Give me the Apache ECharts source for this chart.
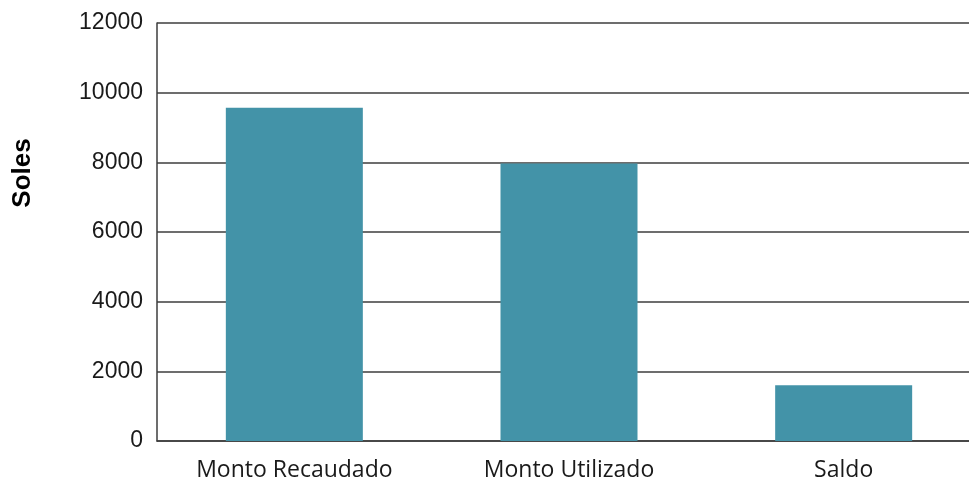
<!DOCTYPE html>
<html>
<head>
<meta charset="utf-8">
<script src="https://cdn.jsdelivr.net/npm/echarts@6/dist/echarts.min.js"></script>
<style>
  html, body { margin: 0; padding: 0; background: #fff; }
  #main { width: 969px; height: 483px; }
</style>
</head>
<body>
<div id="main"></div>
<script>
var categorias = ['Monto Recaudado', 'Monto Utilizado', 'Saldo'];
var montos = [9570, 7970, 1600];
var ejeY = [0, 2000, 4000, 6000, 8000, 10000, 12000];

var colorLinea = '#3c3c3c';

var option = {
    animation: false,
    // el area del grafico sigue un poco fuera del lienzo a la derecha
    grid: { left: 157, right: -12, top: 23, bottom: 42, containLabel: false, outerBoundsMode: 'none' },
    graphic: [
        {
            type: 'text',
            x: 23,
            y: 173,
            rotation: Math.PI / 2,
            style: {
                text: 'Soles',
                fill: '#000',
                font: 'bold 26px "Liberation Sans"',
                align: 'center',
                verticalAlign: 'middle'
            }
        }
    ],
    xAxis: {
        type: 'category',
        data: categorias,
        axisTick: { show: false },
        axisLine: { show: true, lineStyle: { color: colorLinea, width: 1.5 } },
        axisLabel: {
            color: '#1a1a1a',
            fontFamily: 'Open Sans',
            fontSize: 23,
            margin: 18
        }
    },
    yAxis: {
        type: 'value',
        min: ejeY[0],
        max: ejeY[ejeY.length - 1],
        interval: 2000,
        axisTick: { show: false },
        axisLine: { show: true, lineStyle: { color: colorLinea, width: 1.5 } },
        splitLine: { show: true, lineStyle: { color: colorLinea, width: 1.5 } },
        axisLabel: {
            color: '#1a1a1a',
            fontFamily: 'Liberation Sans',
            fontSize: 23,
            margin: 14,
            formatter: function (v) { return String(v); }
        }
    },
    series: [
        {
            type: 'bar',
            data: montos,
            barWidth: 137,
            itemStyle: { color: '#4393a8' }
        }
    ]
};

var myChart = echarts.init(document.getElementById('main'));
myChart.setOption(option);
</script>
</body>
</html>
